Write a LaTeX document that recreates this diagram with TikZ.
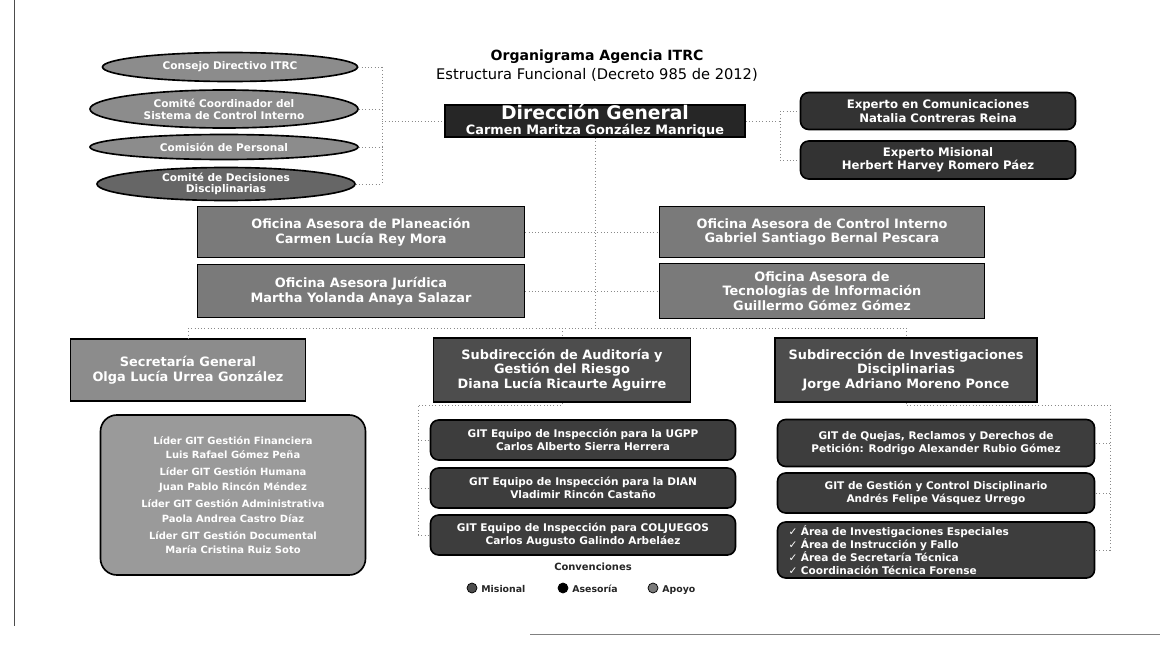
\documentclass[tikz,border=0pt]{standalone}
\usepackage{fontspec}
\setmainfont{DejaVu Sans}
\newfontfamily\symf{DejaVu Sans}
\usetikzlibrary{shapes.geometric}
\def\pxu{0.03cm}
\definecolor{cEll}{HTML}{8C8C8C}
\definecolor{cEllD}{HTML}{666666}
\definecolor{cDir}{HTML}{262626}
\definecolor{cExp}{HTML}{333333}
\definecolor{cAse}{HTML}{7A7A7A}
\definecolor{cSec}{HTML}{8C8C8C}
\definecolor{cSub}{HTML}{4D4D4D}
\definecolor{cGit}{HTML}{3D3D3D}
\definecolor{cApo}{HTML}{9A9A9A}
\definecolor{cConn}{HTML}{8A8A8A}
\newcommand{\ckm}{{\symf\char"2713}}
\begin{document}
\begin{tikzpicture}[x=0.03cm,y=-0.03cm,
  sz/.style 2 args={minimum width=#1*\pxu, minimum height=#2*\pxu},
  box/.style={draw=black, line width=1.4pt, text=white, align=center, inner sep=1pt,
    font=\bfseries\fontsize{11}{12.5}\selectfont},
  rbox/.style={box, rounded corners=7pt},
  gbox/.style={rbox, fill=cGit, font=\bfseries\fontsize{9}{11}\selectfont},
  ell/.style={ellipse, draw=black, line width=1.4pt, text=white, align=center, inner sep=0pt,
    font=\bfseries\fontsize{9}{10}\selectfont},
  conn/.style={draw=cConn, dotted, line width=0.8pt},
  legdot/.style={circle, draw=black, line width=0.6pt, minimum size=10*\pxu, inner sep=0pt},
  legtxt/.style={anchor=west, inner sep=1pt, text height=1.6ex, text depth=0.3ex,
    font=\bfseries\fontsize{8}{9}\selectfont, text=black!85}
]
\useasboundingbox (0,0) rectangle (1169,646);
\fill[white] (0,0) rectangle (1169,646);

% frame lines of the scanned page
\draw[black!70, line width=0.8pt] (14,0) -- (14,626);
\draw[black!50, line width=0.8pt] (530,634) -- (1160,634);

% title
\node[font=\bfseries\fontsize{12}{14}\selectfont] (title) at (597,57) {Organigrama Agencia ITRC};
\node[font=\fontsize{12.5}{14}\selectfont] (subtitle) at (597,75) {Estructura Funcional (Decreto 985 de 2012)};

% committees
\node[ell, fill=cEll, sz={255}{29}] (e1) at (230,67) {Consejo Directivo ITRC};
\node[ell, fill=cEll, sz={268}{38}] (e2) at (224,109) {Comité Coordinador del\\Sistema de Control Interno};
\node[ell, fill=cEll, sz={268}{25}] (e3) at (224,147) {Comisión de Personal};
\node[ell, fill=cEllD, sz={258}{33}] (e4) at (226,184) {Comité de Decisiones\\Disciplinarias};

% direction
\node[box, fill=cDir, sz={300}{32}, inner sep=0pt] (dg) at (595,121)
  {{\fontsize{16}{15}\selectfont Dirección General}\\{\fontsize{11}{12}\selectfont Carmen Maritza González Manrique}};

% experts
\node[rbox, fill=cExp, sz={275}{37}, font=\bfseries\fontsize{10}{11.5}\selectfont] (ex1) at (938,111) {Experto en Comunicaciones\\Natalia Contreras Reina};
\node[rbox, fill=cExp, sz={275}{38}, font=\bfseries\fontsize{10}{11.5}\selectfont] (ex2) at (938,160) {Experto Misional\\Herbert Harvey Romero Páez};

% advisory offices
\node[box, fill=cAse, sz={327}{51}] (pl) at (361,232) {Oficina Asesora de Planeación\\Carmen Lucía Rey Mora};
\node[box, fill=cAse, sz={327}{53}] (ju) at (361,291) {Oficina Asesora Jurídica\\Martha Yolanda Anaya Salazar};
\node[box, fill=cAse, sz={325}{51}] (ci) at (822,232) {Oficina Asesora de Control Interno\\Gabriel Santiago Bernal Pescara};
\node[box, fill=cAse, sz={325}{55}] (ti) at (822,291) {Oficina Asesora de\\Tecnologías de Información\\Guillermo Gómez Gómez};

% second level
\node[box, fill=cSec, sz={235}{62}] (sg) at (188,370) {Secretaría General\\Olga Lucía Urrea González};
\node[box, fill=cSub, sz={257}{64}] (au) at (562,370) {Subdirección de Auditoría y\\Gestión del Riesgo\\Diana Lucía Ricaurte Aguirre};
\node[box, fill=cSub, sz={262}{64}] (inv) at (906,370) {Subdirección de Investigaciones\\Disciplinarias\\Jorge Adriano Moreno Ponce};

% support groups
\node[box, fill=cApo, sz={265}{160}, rounded corners=14pt,
  font=\bfseries\fontsize{8.5}{12.5}\selectfont] (ap) at (233,495)
  {Líder GIT Gestión Financiera\\Luis Rafael Gómez Peña\\[2pt]
   Líder GIT Gestión Humana\\Juan Pablo Rincón Méndez\\[2pt]
   Líder GIT Gestión Administrativa\\Paola Andrea Castro Díaz\\[2pt]
   Líder GIT Gestión Documental\\María Cristina Ruiz Soto};

% inspection groups
\node[gbox, sz={305}{40}] (g1) at (583,440)
  {GIT Equipo de Inspección para la UGPP\\Carlos Alberto Sierra Herrera};
\node[gbox, sz={305}{40}] (g2) at (583,488)
  {GIT Equipo de Inspección para la DIAN\\Vladimir Rincón Castaño};
\node[gbox, sz={305}{40}] (g3) at (583,535)
  {GIT Equipo de Inspección para COLJUEGOS\\Carlos Augusto Galindo Arbeláez};

% investigation groups
\node[gbox, sz={317}{47}] (r1) at (936,443)
  {GIT de Quejas, Reclamos y Derechos de\\Petición: Rodrigo Alexander Rubio Gómez};
\node[gbox, sz={317}{40}] (r2) at (936,493)
  {GIT de Gestión y Control Disciplinario\\Andrés Felipe Vásquez Urrego};
\node[gbox, sz={317}{56}, align=left, text width=295*\pxu] (r3) at (936,550)
  {\ckm\ Área de Investigaciones Especiales\\\ckm\ Área de Instrucción y Fallo\\\ckm\ Área de Secretaría Técnica\\\ckm\ Coordinación Técnica Forense};

% legend
\node[font=\bfseries\fontsize{8.5}{10}\selectfont, text=black!85] (conv) at (593,567) {Convenciones};
\node[legdot, fill=cSub] (lm) at (472,588) {};
\node[legtxt] (lmt) at (480,588) {Misional};
\node[legdot, fill=black] (la) at (563,588) {};
\node[legtxt] (lat) at (571,588) {Asesoría};
\node[legdot, fill=cAse] (lp) at (653,588) {};
\node[legtxt] (lpt) at (661,588) {Apoyo};

% connectors: committees
\coordinate (lbt) at (382,67);
\coordinate (lbb) at (382,184);
\coordinate (lb) at (382,121);
\draw[conn] (lbt) -- (lbb);
\draw[conn] (e1.east) -- (e1.east -| lb);
\draw[conn] (e2.east) -- (e2.east -| lb);
\draw[conn] (e3.east) -- (e3.east -| lb);
\draw[conn] (e4.east) -- (e4.east -| lb);
\draw[conn] (lb) -- (dg.west);

% connectors: experts
\coordinate (rb) at (780,121);
\draw[conn] (dg.east) -- (rb);
\draw[conn] (ex1.west -| rb) -- (ex2.west -| rb);
\draw[conn] (ex1.west -| rb) -- (ex1.west);
\draw[conn] (ex2.west -| rb) -- (ex2.west);

% connectors: main axis
\coordinate (hl) at (188,328);
\coordinate (hr) at (906,328);
\draw[conn] (dg.south) -- (dg.south |- hl);
\draw[conn] (hl) -- (hr);
\draw[conn] (hl) -- (sg.north);
\draw[conn] (hr) -- (inv.north);
\draw[conn] (au.north |- hl) -- (au.north);
\draw[conn] (pl.east) -- (ci.west);
\draw[conn] (ju.east) -- (ti.west);

% connectors: inspection groups
\coordinate (mbx) at (418,405);
\draw[conn] (au.south) -- (au.south |- mbx) -- (mbx) -- (mbx |- g3.west);
\draw[conn] (g1.west -| mbx) -- (g1.west);
\draw[conn] (g2.west -| mbx) -- (g2.west);
\draw[conn] (g3.west -| mbx) -- (g3.west);

% connectors: investigation groups
\coordinate (rbx) at (1110,405);
\draw[conn] (inv.south) -- (inv.south |- rbx) -- (rbx) -- (rbx |- r3.east);
\draw[conn] (r1.east -| rbx) -- (r1.east);
\draw[conn] (r2.east -| rbx) -- (r2.east);
\draw[conn] (r3.east -| rbx) -- (r3.east);
\end{tikzpicture}
\end{document}
